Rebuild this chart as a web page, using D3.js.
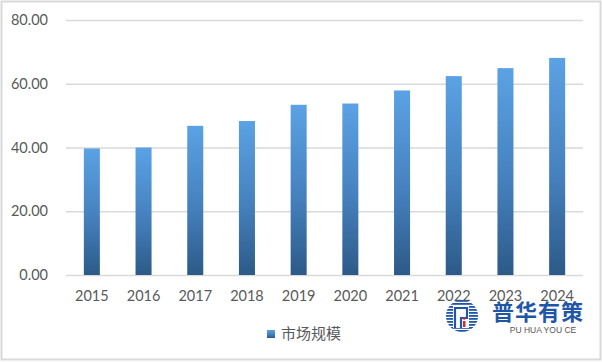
<!DOCTYPE html>
<html>
<head>
<meta charset="utf-8">
<script src="https://cdn.jsdelivr.net/npm/d3@7"></script>
<style>
  body { margin: 0; background: #fff; }
  #chart { width: 602px; height: 362px; }
</style>
</head>
<body>
<div id="chart"></div>
<script>
// data
const years = ["2015","2016","2017","2018","2019","2020","2021","2022","2023","2024"];
const marketSize = [39.7, 40.0, 46.8, 48.3, 53.4, 53.8, 57.9, 62.4, 64.9, 68.1];
const yTicks = [0, 20, 40, 60, 80];
const seriesName = "市场规模";

var W = 602, H = 362;
var margin = {top: 20, right: 19, bottom: 87, left: 66},
    width = W - margin.left - margin.right,
    height = H - margin.top - margin.bottom;

var svg = d3.select("#chart").append("svg")
  .attr("width", W)
  .attr("height", H);

// outer border
svg.append("rect")
  .attr("x", 1.5).attr("y", 1.5)
  .attr("width", W - 3).attr("height", H - 4)
  .attr("fill", "#fff")
  .attr("stroke", "#d9d9d9")
  .attr("stroke-width", 2);

var defs = svg.append("defs");
var grad = defs.append("linearGradient")
  .attr("id", "barGrad")
  .attr("x1", 0).attr("y1", 0).attr("x2", 0).attr("y2", 1);
grad.append("stop").attr("offset", "0%").attr("stop-color", "#5ba2e4");
grad.append("stop").attr("offset", "55%").attr("stop-color", "#4580bd");
grad.append("stop").attr("offset", "100%").attr("stop-color", "#2c5a88");

var g = svg.append("g")
  .attr("transform", "translate(" + margin.left + "," + margin.top + ")");

var x = d3.scaleBand()
  .domain(years)
  .range([0, width])
  .paddingInner(0.69)
  .paddingOuter(0.345);

var y = d3.scaleLinear()
  .domain([0, 80])
  .range([height, 0]);

// gridlines + y labels
var yAxis = g.append("g")
  .call(d3.axisLeft(y).tickValues(yTicks).tickSize(-width).tickFormat(d3.format(".2f")).tickPadding(18));
yAxis.select(".domain").remove();
yAxis.selectAll(".tick line").attr("stroke", "#d9d9d9").attr("stroke-width", 1.3);
yAxis.selectAll(".tick text")
  .attr("fill", "#595959")
  .style("font-family", "Lato, 'Open Sans', sans-serif")
  .style("font-size", "14.5px");

// bars
g.selectAll(".bar")
  .data(marketSize)
  .enter().append("rect")
  .attr("class", "bar")
  .attr("x", function(d, i) { return x(years[i]); })
  .attr("width", x.bandwidth())
  .attr("y", function(d) { return y(d); })
  .attr("height", function(d) { return height - y(d); })
  .attr("fill", "url(#barGrad)");

// x axis labels
var xAxis = g.append("g")
  .attr("transform", "translate(0," + height + ")")
  .call(d3.axisBottom(x).tickSize(0).tickPadding(16));
xAxis.select(".domain").remove();
xAxis.selectAll(".tick text")
  .attr("fill", "#595959")
  .style("font-family", "Lato, 'Open Sans', sans-serif")
  .style("font-size", "14.5px");

// legend
var legend = svg.append("g").attr("transform", "translate(267,330)");
legend.append("rect")
  .attr("width", 8).attr("height", 8)
  .attr("fill", "url(#barGrad)");
legend.append("text")
  .attr("x", 14).attr("y", 4)
  .attr("dy", "0.36em")
  .attr("fill", "#595959")
  .style("font-family", "'Noto Sans CJK SC', sans-serif")
  .style("font-size", "15px")
  .text(seriesName);

// watermark logo
var logo = svg.append("g").attr("transform", "translate(462,316)");
logo.append("clipPath").attr("id", "logoClip")
  .append("circle").attr("r", 16);
var stripes = logo.append("g").attr("clip-path", "url(#logoClip)");
d3.range(-16, 16, 3).forEach(function(v) {
  stripes.append("rect")
    .attr("x", -16).attr("y", v)
    .attr("width", 32).attr("height", 1.8)
    .attr("fill", "#1f56a8");
});
logo.append("rect").attr("x", -9).attr("y", -10).attr("width", 16).attr("height", 22).attr("fill", "#fff");
logo.append("path")
  .attr("d", "M-7,12 V-8 H5 V2 H-1 V12")
  .attr("fill", "none").attr("stroke", "#1f56a8").attr("stroke-width", 2.2);
logo.append("rect").attr("x", 1).attr("y", 5).attr("width", 2.5).attr("height", 6).attr("fill", "#d9262b");
logo.append("circle").attr("cx", 2.2).attr("cy", 2.5).attr("r", 1.3).attr("fill", "#d9262b");

svg.append("text")
  .attr("x", 492).attr("y", 320)
  .attr("fill", "#1f56a8")
  .style("font-family", "'Noto Sans CJK SC', sans-serif")
  .style("font-weight", "bold")
  .style("font-size", "22px")
  .attr("textLength", 91)
  .text("普华有策");
svg.append("text")
  .attr("x", 543).attr("y", 333)
  .attr("text-anchor", "middle")
  .attr("fill", "#555")
  .style("font-family", "'Liberation Sans', sans-serif")
  .style("font-size", "8.5px")
  .text("PU HUA YOU CE");
</script>
</body>
</html>
